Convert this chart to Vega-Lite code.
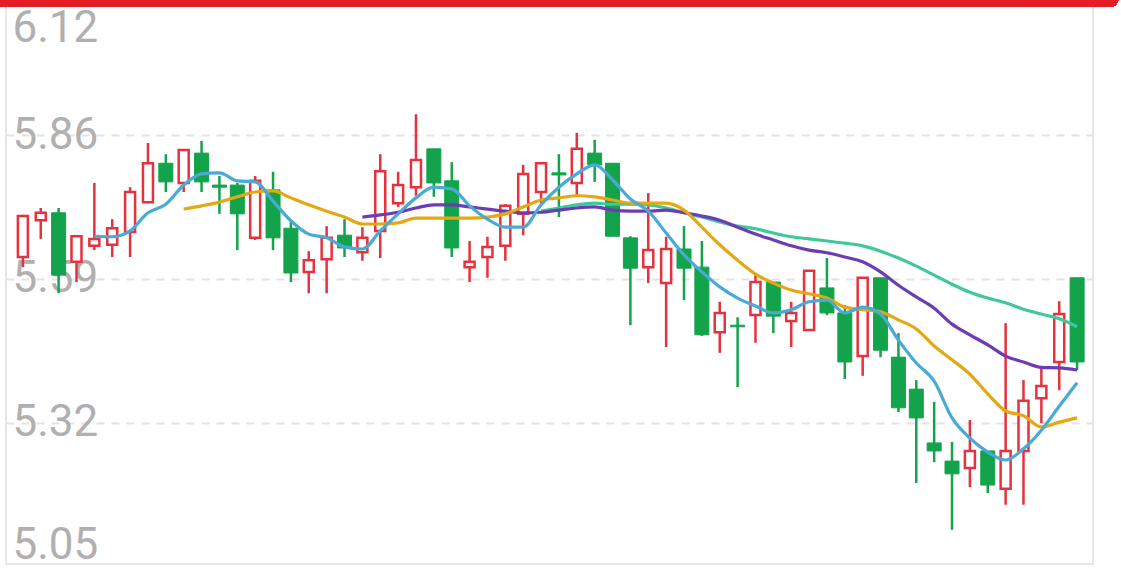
{
  "$schema": "https://vega.github.io/schema/vega-lite/v6.json",
  "width": 1087,
  "height": 564,
  "autosize": {"type": "none"},
  "padding": {"left": 6, "top": 0, "right": 28, "bottom": 5},
  "background": "#ffffff",
  "config": {"view": {"stroke": "#e6e6e6", "strokeWidth": 2}, "font": "Roboto"},
  "data": {"values": [
    {"i":1,"o":5.631,"h":5.710,"l":5.612,"c":5.708,"d":"u","ma5":null,"ma10":null,"ma20":null,"ma30":null},
    {"i":2,"o":5.700,"h":5.723,"l":5.665,"c":5.714,"d":"u","ma5":null,"ma10":null,"ma20":null,"ma30":null},
    {"i":3,"o":5.714,"h":5.723,"l":5.563,"c":5.597,"d":"d","ma5":null,"ma10":null,"ma20":null,"ma30":null},
    {"i":4,"o":5.622,"h":5.670,"l":5.584,"c":5.670,"d":"u","ma5":null,"ma10":null,"ma20":null,"ma30":null},
    {"i":5,"o":5.652,"h":5.770,"l":5.644,"c":5.665,"d":"u","ma5":5.670,"ma10":null,"ma20":null,"ma30":null},
    {"i":6,"o":5.654,"h":5.702,"l":5.631,"c":5.685,"d":"u","ma5":5.669,"ma10":null,"ma20":null,"ma30":null},
    {"i":7,"o":5.678,"h":5.762,"l":5.631,"c":5.753,"d":"u","ma5":5.680,"ma10":null,"ma20":null,"ma30":null},
    {"i":8,"o":5.734,"h":5.845,"l":5.732,"c":5.807,"d":"u","ma5":5.714,"ma10":null,"ma20":null,"ma30":null},
    {"i":9,"o":5.807,"h":5.824,"l":5.753,"c":5.772,"d":"d","ma5":5.730,"ma10":null,"ma20":null,"ma30":null},
    {"i":10,"o":5.770,"h":5.832,"l":5.753,"c":5.832,"d":"u","ma5":5.766,"ma10":5.721,"ma20":null,"ma30":null},
    {"i":11,"o":5.826,"h":5.849,"l":5.753,"c":5.772,"d":"d","ma5":5.787,"ma10":5.727,"ma20":null,"ma30":null},
    {"i":12,"o":5.766,"h":5.783,"l":5.712,"c":5.762,"d":"d","ma5":5.789,"ma10":5.734,"ma20":null,"ma30":null},
    {"i":13,"o":5.766,"h":5.770,"l":5.644,"c":5.712,"d":"d","ma5":5.774,"ma10":5.744,"ma20":null,"ma30":null},
    {"i":14,"o":5.667,"h":5.783,"l":5.663,"c":5.774,"d":"u","ma5":5.772,"ma10":5.753,"ma20":null,"ma30":null},
    {"i":15,"o":5.757,"h":5.791,"l":5.644,"c":5.667,"d":"d","ma5":5.736,"ma10":5.755,"ma20":null,"ma30":null},
    {"i":16,"o":5.685,"h":5.699,"l":5.584,"c":5.601,"d":"d","ma5":5.699,"ma10":5.742,"ma20":null,"ma30":null},
    {"i":17,"o":5.603,"h":5.642,"l":5.563,"c":5.625,"d":"u","ma5":5.674,"ma10":5.729,"ma20":null,"ma30":null},
    {"i":18,"o":5.627,"h":5.689,"l":5.563,"c":5.667,"d":"u","ma5":5.667,"ma10":5.717,"ma20":null,"ma30":null},
    {"i":19,"o":5.672,"h":5.702,"l":5.631,"c":5.648,"d":"d","ma5":5.650,"ma10":5.706,"ma20":null,"ma30":null},
    {"i":20,"o":5.640,"h":5.687,"l":5.624,"c":5.667,"d":"u","ma5":5.646,"ma10":5.693,"ma20":5.706,"ma30":null},
    {"i":21,"o":5.680,"h":5.824,"l":5.629,"c":5.792,"d":"u","ma5":5.680,"ma10":5.693,"ma20":5.710,"ma30":null},
    {"i":22,"o":5.732,"h":5.791,"l":5.725,"c":5.766,"d":"u","ma5":5.712,"ma10":5.695,"ma20":5.715,"ma30":null},
    {"i":23,"o":5.762,"h":5.899,"l":5.746,"c":5.813,"d":"u","ma5":5.742,"ma10":5.704,"ma20":5.723,"ma30":null},
    {"i":24,"o":5.834,"h":5.834,"l":5.744,"c":5.770,"d":"d","ma5":5.762,"ma10":5.704,"ma20":5.729,"ma30":null},
    {"i":25,"o":5.774,"h":5.809,"l":5.631,"c":5.648,"d":"d","ma5":5.759,"ma10":5.704,"ma20":5.729,"ma30":null},
    {"i":26,"o":5.612,"h":5.661,"l":5.584,"c":5.622,"d":"u","ma5":5.727,"ma10":5.704,"ma20":5.725,"ma30":null},
    {"i":27,"o":5.631,"h":5.669,"l":5.592,"c":5.650,"d":"u","ma5":5.702,"ma10":5.706,"ma20":5.721,"ma30":null},
    {"i":28,"o":5.652,"h":5.730,"l":5.624,"c":5.727,"d":"u","ma5":5.687,"ma10":5.712,"ma20":5.717,"ma30":null},
    {"i":29,"o":5.712,"h":5.804,"l":5.672,"c":5.787,"d":"u","ma5":5.687,"ma10":5.725,"ma20":5.714,"ma30":null},
    {"i":30,"o":5.753,"h":5.809,"l":5.732,"c":5.807,"d":"u","ma5":5.729,"ma10":5.738,"ma20":5.715,"ma30":5.717},
    {"i":31,"o":5.789,"h":5.824,"l":5.706,"c":5.785,"d":"d","ma5":5.762,"ma10":5.742,"ma20":5.719,"ma30":5.723},
    {"i":32,"o":5.770,"h":5.864,"l":5.747,"c":5.834,"d":"u","ma5":5.787,"ma10":5.746,"ma20":5.723,"ma30":5.729},
    {"i":33,"o":5.826,"h":5.851,"l":5.772,"c":5.804,"d":"d","ma5":5.804,"ma10":5.744,"ma20":5.725,"ma30":5.732},
    {"i":34,"o":5.807,"h":5.807,"l":5.670,"c":5.670,"d":"d","ma5":5.776,"ma10":5.738,"ma20":5.719,"ma30":5.730},
    {"i":35,"o":5.667,"h":5.670,"l":5.503,"c":5.610,"d":"d","ma5":5.740,"ma10":5.732,"ma20":5.717,"ma30":5.730},
    {"i":36,"o":5.612,"h":5.751,"l":5.582,"c":5.644,"d":"u","ma5":5.717,"ma10":5.732,"ma20":5.717,"ma30":5.729},
    {"i":37,"o":5.582,"h":5.669,"l":5.462,"c":5.646,"d":"u","ma5":5.676,"ma10":5.732,"ma20":5.719,"ma30":5.723},
    {"i":38,"o":5.646,"h":5.689,"l":5.550,"c":5.610,"d":"d","ma5":5.635,"ma10":5.719,"ma20":5.714,"ma30":5.714},
    {"i":39,"o":5.612,"h":5.661,"l":5.483,"c":5.485,"d":"d","ma5":5.603,"ma10":5.687,"ma20":5.708,"ma30":5.706},
    {"i":40,"o":5.490,"h":5.547,"l":5.451,"c":5.526,"d":"u","ma5":5.575,"ma10":5.654,"ma20":5.700,"ma30":5.697},
    {"i":41,"o":5.503,"h":5.518,"l":5.387,"c":5.500,"d":"d","ma5":5.554,"ma10":5.625,"ma20":5.687,"ma30":5.689},
    {"i":42,"o":5.522,"h":5.601,"l":5.470,"c":5.584,"d":"u","ma5":5.539,"ma10":5.599,"ma20":5.674,"ma30":5.684},
    {"i":43,"o":5.584,"h":5.584,"l":5.488,"c":5.520,"d":"d","ma5":5.526,"ma10":5.582,"ma20":5.663,"ma30":5.676},
    {"i":44,"o":5.511,"h":5.547,"l":5.462,"c":5.526,"d":"u","ma5":5.532,"ma10":5.569,"ma20":5.652,"ma30":5.669},
    {"i":45,"o":5.494,"h":5.605,"l":5.494,"c":5.605,"d":"u","ma5":5.547,"ma10":5.562,"ma20":5.644,"ma30":5.665},
    {"i":46,"o":5.573,"h":5.629,"l":5.522,"c":5.526,"d":"d","ma5":5.550,"ma10":5.554,"ma20":5.639,"ma30":5.661},
    {"i":47,"o":5.526,"h":5.541,"l":5.402,"c":5.434,"d":"d","ma5":5.526,"ma10":5.537,"ma20":5.631,"ma30":5.657},
    {"i":48,"o":5.445,"h":5.592,"l":5.408,"c":5.592,"d":"u","ma5":5.537,"ma10":5.532,"ma20":5.622,"ma30":5.652},
    {"i":49,"o":5.592,"h":5.592,"l":5.443,"c":5.456,"d":"d","ma5":5.524,"ma10":5.528,"ma20":5.603,"ma30":5.642},
    {"i":50,"o":5.443,"h":5.488,"l":5.340,"c":5.348,"d":"d","ma5":5.475,"ma10":5.513,"ma20":5.578,"ma30":5.629},
    {"i":51,"o":5.383,"h":5.400,"l":5.207,"c":5.329,"d":"d","ma5":5.432,"ma10":5.496,"ma20":5.556,"ma30":5.614},
    {"i":52,"o":5.282,"h":5.359,"l":5.246,"c":5.267,"d":"d","ma5":5.398,"ma10":5.464,"ma20":5.535,"ma30":5.597},
    {"i":53,"o":5.248,"h":5.284,"l":5.119,"c":5.224,"d":"d","ma5":5.329,"ma10":5.438,"ma20":5.505,"ma30":5.580},
    {"i":54,"o":5.235,"h":5.325,"l":5.199,"c":5.267,"d":"u","ma5":5.291,"ma10":5.411,"ma20":5.485,"ma30":5.565},
    {"i":55,"o":5.267,"h":5.267,"l":5.188,"c":5.203,"d":"d","ma5":5.265,"ma10":5.374,"ma20":5.466,"ma30":5.554},
    {"i":56,"o":5.196,"h":5.507,"l":5.166,"c":5.267,"d":"u","ma5":5.250,"ma10":5.342,"ma20":5.445,"ma30":5.545},
    {"i":57,"o":5.267,"h":5.400,"l":5.166,"c":5.361,"d":"u","ma5":5.271,"ma10":5.333,"ma20":5.434,"ma30":5.533},
    {"i":58,"o":5.366,"h":5.424,"l":5.319,"c":5.389,"d":"u","ma5":5.306,"ma10":5.312,"ma20":5.424,"ma30":5.524},
    {"i":59,"o":5.434,"h":5.548,"l":5.381,"c":5.524,"d":"u","ma5":5.351,"ma10":5.321,"ma20":5.423,"ma30":5.515},
    {"i":60,"o":5.592,"h":5.592,"l":5.419,"c":5.434,"d":"d","ma5":5.395,"ma10":5.329,"ma20":5.419,"ma30":5.500}
  ]},
  "encoding": {
    "x": {"field": "i", "type": "quantitative", "scale": {"domain": [0.335, 60.61], "nice": false, "zero": false}, "axis": null}
  },
  "layer": [
    {
      "mark": {"type": "rule", "strokeWidth": 2.5},
      "encoding": {
        "y": {"field": "l", "type": "quantitative",
          "scale": {"domain": [5.0548, 6.1134], "nice": false, "zero": false},
          "axis": {
            "title": null,
            "values": [6.0605, 5.86, 5.59, 5.32, 5.0886],
            "labelExpr": "datum.value > 6 ? '6.12' : (datum.value < 5.2 ? '5.05' : format(datum.value, '.2f'))",
            "domain": false, "ticks": false,
            "grid": true, "gridColor": "#e3e3e3", "gridDash": [8, 7], "gridWidth": 2,
            "gridOpacity": {"condition": {"test": "datum.value > 6 || datum.value < 5.2", "value": 0}, "value": 1},
            "labelAlign": "left", "labelBaseline": "middle", "labelPadding": -6,
            "labelFont": "Roboto", "labelFontSize": 44, "labelColor": "#b0b0b0",
            "labelOverlap": false, "labelBound": false, "labelFlush": false
          }
        },
        "y2": {"field": "h"},
        "color": {"field": "d", "type": "nominal", "scale": {"domain": ["u", "d"], "range": ["#e5323e", "#13a34b"]}, "legend": null}
      }
    },
    {
      "transform": [{"filter": "datum.d == 'u'"}],
      "mark": {"type": "bar", "width": 10, "fill": "#ffffff", "stroke": "#e5323e", "strokeWidth": 2.5},
      "encoding": {
        "y": {"field": "o", "type": "quantitative"},
        "y2": {"field": "c"}
      }
    },
    {
      "transform": [{"filter": "datum.d == 'd'"}],
      "mark": {"type": "bar", "width": 14, "fill": "#13a34b", "stroke": "#13a34b", "strokeWidth": 1},
      "encoding": {
        "y": {"field": "o", "type": "quantitative"},
        "y2": {"field": "c"}
      }
    },
    {
      "mark": {"type": "line", "color": "#3ec89c", "strokeWidth": 3.2, "interpolate": "monotone"},
      "encoding": {"y": {"field": "ma30", "type": "quantitative"}}
    },
    {
      "mark": {"type": "line", "color": "#6d3cb4", "strokeWidth": 3.2, "interpolate": "monotone"},
      "encoding": {"y": {"field": "ma20", "type": "quantitative"}}
    },
    {
      "mark": {"type": "line", "color": "#e3a812", "strokeWidth": 3.2, "interpolate": "monotone"},
      "encoding": {"y": {"field": "ma10", "type": "quantitative"}}
    },
    {
      "mark": {"type": "line", "color": "#4aaad6", "strokeWidth": 3.2, "interpolate": "monotone"},
      "encoding": {"y": {"field": "ma5", "type": "quantitative"}}
    },
    {
      "mark": {"type": "rect", "color": "#e31e24", "cornerRadiusBottomRight": 8},
      "encoding": {
        "x": {"datum": -1},
        "x2": {"datum": 62.3},
        "y": {"datum": 6.1005},
        "y2": {"datum": 6.2}
      }
    }
  ]
}
